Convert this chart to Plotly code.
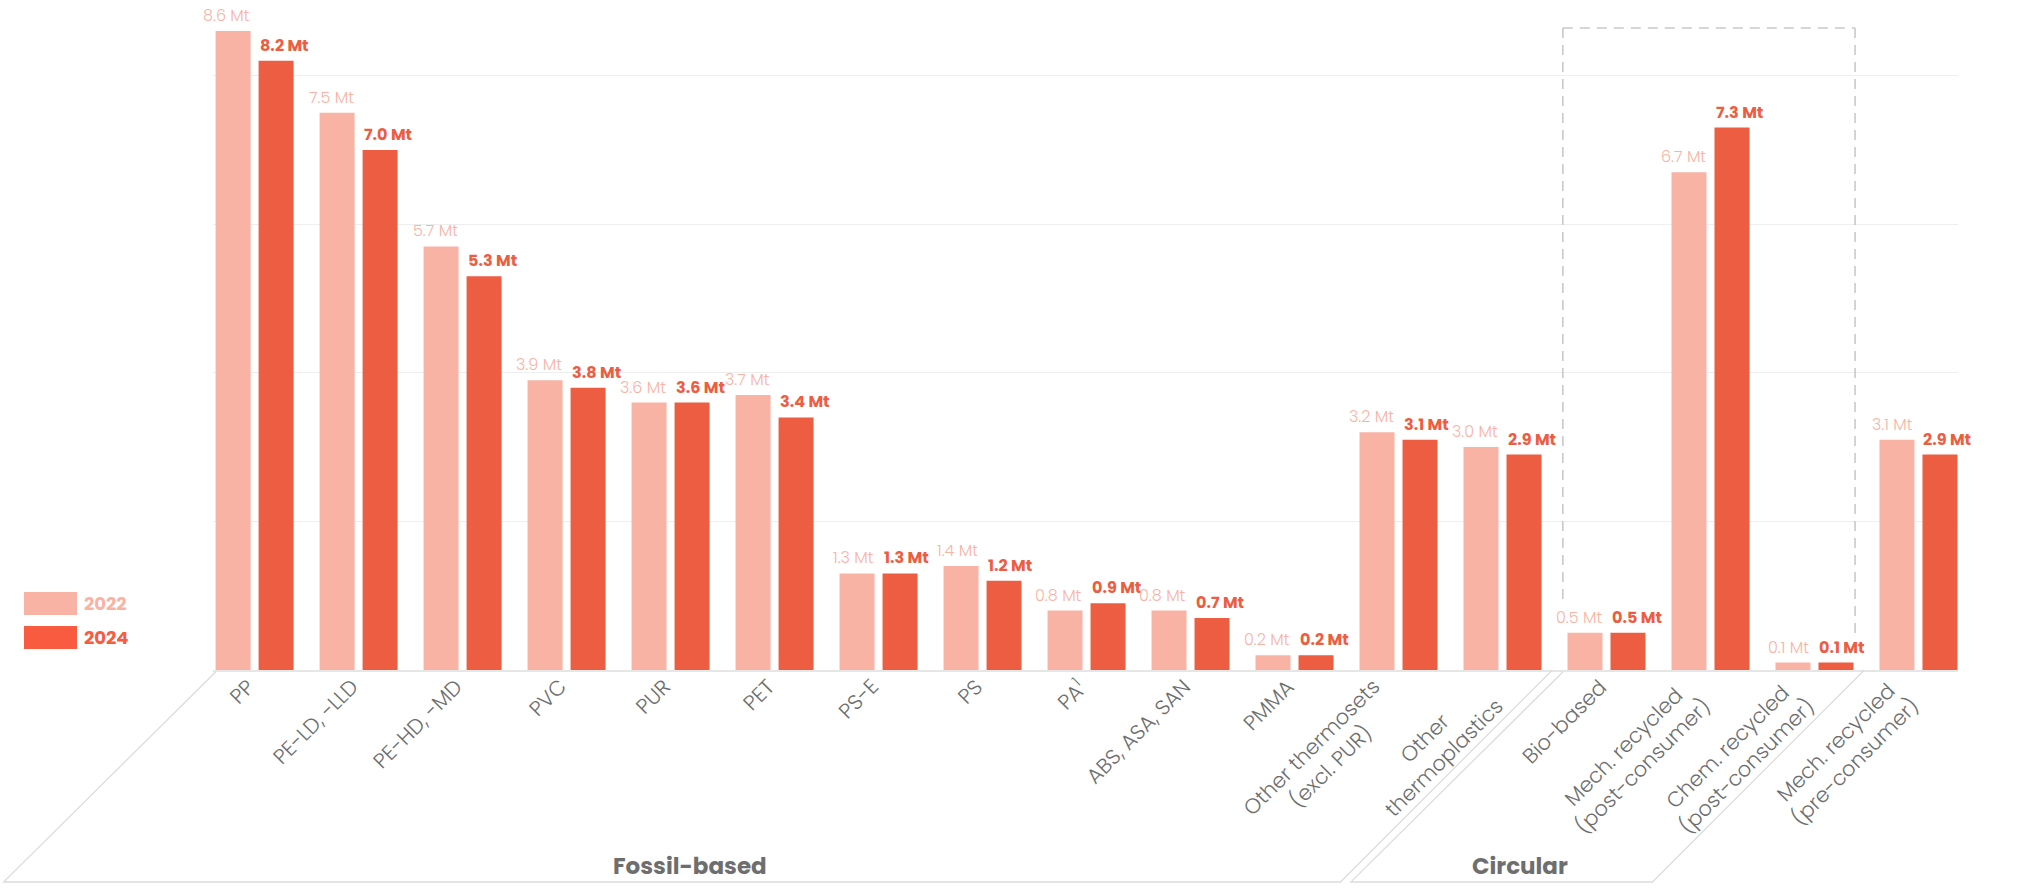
import plotly.graph_objects as go

# categories and values (Mt)
categories = ["PP", "PE-LD, -LLD", "PE-HD, -MD", "PVC", "PUR", "PET", "PS-E", "PS",
              "PA<sup>1</sup>", "ABS, ASA, SAN", "PMMA", "Other thermosets<br>(excl. PUR)",
              "Other<br>thermoplastics", "Bio-based", "Mech. recycled<br>(post-consumer)",
              "Chem. recycled<br>(post-consumer)", "Mech. recycled<br>(pre-consumer)"]
vals_2022 = [8.6, 7.5, 5.7, 3.9, 3.6, 3.7, 1.3, 1.4, 0.8, 0.8, 0.2, 3.2, 3.0, 0.5, 6.7, 0.1, 3.1]
vals_2024 = [8.2, 7.0, 5.3, 3.8, 3.6, 3.4, 1.3, 1.2, 0.9, 0.7, 0.2, 3.1, 2.9, 0.5, 7.3, 0.1, 2.9]
years = ["2022", "2024"]

# groups shown below the axis: (name, first index, last index)
groups = [("Fossil-based", 0, 12), ("Circular", 13, 15)]

C22 = "#F9B3A5"
C24 = "#EC5D42"
GREY = "#6E6E6E"
FONT = "Poppins, 'Open Sans', sans-serif"

W, H = 2040, 888
ML, MR, MT, MB = 213, 2040 - 1958, 0, 888 - 670
PW, PH = W - ML - MR, H - MT - MB
XMIN, XMAX = -0.4, 16.38
YMAX = PH / 74.3

x = list(range(len(categories)))


# helpers for decoration placed in pixel space
def px_x(u):
    return ML + (u - XMIN) / (XMAX - XMIN) * PW


def paper_x(px):
    return (px - ML) / PW


def paper_y(py):
    return (H - MB - py) / PH


fig = go.Figure()
fig.add_trace(go.Bar(x=x, y=vals_2022, name=years[0], marker=dict(color=C22, line=dict(width=0))))
fig.add_trace(go.Bar(x=x, y=vals_2024, name=years[1], marker=dict(color=C24, line=dict(width=0))))

annotations = []
# value labels: 2022 right-aligned to its bar, 2024 left-aligned to its bar
for i, (a, b) in enumerate(zip(vals_2022, vals_2024)):
    annotations.append(dict(x=i, y=a, xref="x", yref="y", text=f"{a:.1f} Mt", showarrow=False,
                            xanchor="right", yanchor="bottom", xshift=-3, yshift=2,
                            font=dict(family=FONT, size=16, color=C22, weight=300)))
    annotations.append(dict(x=i, y=b, xref="x", yref="y", text=f"<b>{b:.1f} Mt</b>", showarrow=False,
                            xanchor="left", yanchor="bottom", xshift=3, yshift=2,
                            font=dict(family=FONT, size=16, color=C24)))

# rotated category labels
for i, c in enumerate(categories):
    annotations.append(dict(x=i, y=0, xref="x", yref="y", text=c, showarrow=False, textangle=-45,
                            align="center", xanchor="right", yanchor="top", xshift=9, yshift=0,
                            font=dict(family=FONT, size=21, color=GREY, weight=300)))

shapes = []
# group brackets (slanted parallelograms under the axis)
drop = 212
base_py = 670
for name, i0, i1 in groups:
    left_u = i0 - 0.375 if i0 == 0 else i0 - 0.42
    right_u = i1 + 0.48
    x0 = px_x(left_u)
    x1 = px_x(right_u)
    path = (f"M {paper_x(x0)},{paper_y(base_py + 2)} "
            f"L {paper_x(x0 - drop)},{paper_y(base_py + drop)} "
            f"L {paper_x(x1 - drop)},{paper_y(base_py + drop)} "
            f"L {paper_x(x1)},{paper_y(base_py)}")
    shapes.append(dict(type="path", path=path, xref="paper", yref="paper",
                       line=dict(color="#DCDCDC", width=1.3)))
    cx = (x0 + x1) / 2 - drop + 18
    annotations.append(dict(x=paper_x(cx), y=paper_y(866), xref="paper", yref="paper",
                            text=f"<b>{name}</b>", showarrow=False, xanchor="center", yanchor="middle",
                            font=dict(family=FONT, size=23, color=GREY)))

# dashed box around the circular (post-consumer) block
box_l, box_r, box_top = 12.58, 15.39, 8.64
dash = dict(color="#C9C9C9", width=1.6, dash="10px,7px")
shapes.append(dict(type="line", xref="x", yref="y", x0=box_l, x1=box_r, y0=box_top, y1=box_top, line=dash))
shapes.append(dict(type="line", xref="x", yref="y", x0=box_l, x1=box_l, y0=box_top, y1=0.86, line=dash))
shapes.append(dict(type="line", xref="x", yref="y", x0=box_r, x1=box_r, y0=box_top, y1=0.44, line=dash))

# legend drawn by hand
for k, (yr, col) in enumerate(zip(years, [C22, "#F95B40"])):
    top = 592 + 34 * k
    shapes.append(dict(type="rect", xref="paper", yref="paper", x0=paper_x(24), x1=paper_x(77),
                       y0=paper_y(top + 23), y1=paper_y(top), fillcolor=col, line=dict(width=0)))
    annotations.append(dict(x=paper_x(82), y=paper_y(top + 11.5), xref="paper", yref="paper",
                            text=f"<b>{yr}</b>", showarrow=False, xanchor="left", yanchor="middle",
                            font=dict(family=FONT, size=18, color=col)))

fig.update_layout(
    width=W, height=H,
    margin=dict(l=ML, r=MR, t=MT, b=MB),
    paper_bgcolor="white", plot_bgcolor="white",
    barmode="group", bargap=0.173, bargroupgap=0.186,
    showlegend=False,
    xaxis=dict(range=[XMIN, XMAX], showticklabels=False, showgrid=False, zeroline=False,
               showline=True, linecolor="#E6E6E6", linewidth=1.5, ticks=""),
    yaxis=dict(range=[0, YMAX], dtick=2, showticklabels=False, showgrid=True,
               gridcolor="#EEEEEE", gridwidth=1, zeroline=False, ticks=""),
    annotations=annotations,
    shapes=shapes,
)

# drop the default 8px page margin so the figure sits at the window's corner
fig.write_html("out.html", config={"displayModeBar": False},
               post_script="document.body.style.margin='0';")
